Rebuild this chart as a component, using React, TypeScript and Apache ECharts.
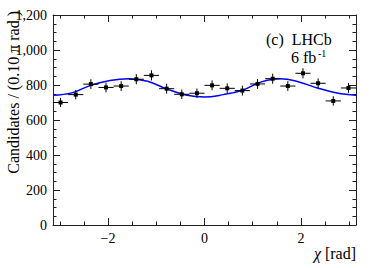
import React, { useEffect, useRef } from "react";
import * as echarts from "echarts";

// Bin centres (rad), candidate counts and their uncertainties
const chi = [-2.985, -2.670, -2.356, -2.042, -1.728, -1.414, -1.100, -0.785, -0.471, -0.157,
  0.157, 0.471, 0.785, 1.100, 1.414, 1.728, 2.042, 2.356, 2.670, 2.985];
const counts = [700, 745, 805, 786, 794, 833, 855, 779, 747, 753,
  798, 781, 768, 806, 836, 794, 867, 810, 709, 783];
const errors = [26, 27, 28, 28, 28, 29, 29, 28, 27, 27,
  28, 28, 28, 28, 29, 28, 29, 28, 27, 28];
const binHalfWidth = 0.157;

// Fit curve
const fitChi = [-3.1416, -2.75, -2.36, -1.96, -1.57, -1.18, -0.785, -0.39, 0,
  0.39, 0.785, 1.18, 1.57, 1.96, 2.36, 2.75, 3.1416];
const fitVals = [741, 755, 798, 826, 836, 821, 778, 743, 731,
  745, 770, 818, 836, 817, 781, 754, 741];

// Tick values
const xMajor = [-2, 0, 2];
const xMinor = [-3, -2.5, -1.5, -1, -0.5, 0.5, 1, 1.5, 2.5, 3];

const FONT = "Liberation Serif";
const AXIS_COLOR = "#222";

export default function App() {
  const ref = useRef<HTMLDivElement>(null);
  useEffect(() => {
    if (!ref.current) return;
    const chart = echarts.init(ref.current, null, { renderer: "svg" });
    const lineStyle = { color: AXIS_COLOR, width: 1 };
    const xBase = (position: string, ticks: number[], len: number, line: boolean, labels: boolean) => ({
      type: "value",
      min: -Math.PI,
      max: Math.PI,
      position,
      axisLine: { show: line, onZero: false, lineStyle },
      axisTick: { show: true, inside: true, length: len, customValues: ticks, lineStyle },
      axisLabel: labels
        ? {
            show: true,
            customValues: xMajor,
            fontFamily: FONT,
            fontSize: 14,
            color: "#000",
            margin: 6,
            formatter: (v: number) => (v < 0 ? "\u2212" + Math.abs(v) : String(v)),
          }
        : { show: false },
      splitLine: { show: false },
    });
    const yBase = (position: string, labels: boolean) => ({
      type: "value",
      min: 0,
      max: 1200,
      interval: 200,
      position,
      axisLine: { show: true, onZero: false, lineStyle },
      axisTick: { show: true, inside: true, length: 7, lineStyle },
      minorTick: { show: true, splitNumber: 4, length: 3.5, lineStyle },
      axisLabel: labels
        ? { show: true, fontFamily: FONT, fontSize: 14, color: "#000", margin: 6 }
        : { show: false },
      splitLine: { show: false },
    });

    chart.setOption({
      animation: false,
      backgroundColor: "#fff",
      grid: { left: 53, right: 18, top: 15, bottom: 43 },
      xAxis: [
        xBase("bottom", xMajor, 7, true, true),
        xBase("bottom", xMinor, 3.5, false, false),
        xBase("top", xMajor, 7, true, false),
        xBase("top", xMinor, 3.5, false, false),
      ],
      yAxis: [yBase("left", true), yBase("right", false)],
      series: [
        {
          type: "line",
          xAxisIndex: 0,
          yAxisIndex: 0,
          data: fitChi.map((c, i) => [c, fitVals[i]]),
          smooth: 0.4,
          showSymbol: false,
          symbol: "none",
          lineStyle: { color: "#0000ff", width: 1.5 },
          z: 2,
        },
        {
          type: "custom",
          xAxisIndex: 0,
          yAxisIndex: 0,
          z: 3,
          encode: { x: 0, y: 1 },
          data: chi.map((c, i) => [c, counts[i], errors[i], binHalfWidth]),
          renderItem: (_p: any, api: any) => {
            const x = api.value(0);
            const y = api.value(1);
            const e = api.value(2);
            const w = api.value(3);
            const c = api.coord([x, y]);
            const l = api.coord([x - w, y]);
            const r = api.coord([x + w, y]);
            const t = api.coord([x, y + e]);
            const b = api.coord([x, y - e]);
            const st = { stroke: "#000", lineWidth: 1 };
            return {
              type: "group",
              children: [
                { type: "line", shape: { x1: l[0], y1: c[1], x2: r[0], y2: c[1] }, style: st },
                { type: "line", shape: { x1: c[0], y1: t[1], x2: c[0], y2: b[1] }, style: st },
                { type: "rect", shape: { x: c[0] - 2, y: c[1] - 2, width: 4, height: 4 }, style: { fill: "#000" } },
              ],
            };
          },
        },
      ],
      graphic: [
        {
          type: "text",
          x: 13,
          y: 11,
          rotation: Math.PI / 2,
          style: {
            text: "Candidates / (0.10 \u03c0 rad )",
            fontFamily: FONT,
            fontSize: 16,
            fill: "#000",
            align: "right",
            verticalAlign: "middle",
          },
        },
        {
          type: "text",
          x: 356,
          y: 253,
          style: {
            text: "{i|\u03c7} [rad]",
            fontFamily: FONT,
            fontSize: 16,
            fill: "#000",
            align: "right",
            verticalAlign: "middle",
            rich: { i: { fontFamily: FONT, fontSize: 16, fontStyle: "italic", fill: "#000" } },
          },
        },
        {
          type: "text",
          x: 266,
          y: 39,
          style: { text: "(c)  LHCb", fontFamily: FONT, fontSize: 16, fill: "#000", align: "left", verticalAlign: "middle" },
        },
        {
          type: "text",
          x: 291,
          y: 57,
          style: { text: "6 fb", fontFamily: FONT, fontSize: 16, fill: "#000", align: "left", verticalAlign: "middle" },
        },
        {
          type: "text",
          x: 318,
          y: 53,
          style: { text: "-1", fontFamily: FONT, fontSize: 10, fill: "#000", align: "left", verticalAlign: "middle" },
        },
      ],
    });
    return () => chart.dispose();
  }, []);
  return <div ref={ref} style={{ width: 374, height: 268, position: "fixed", left: 0, top: 0 }} />;
}
